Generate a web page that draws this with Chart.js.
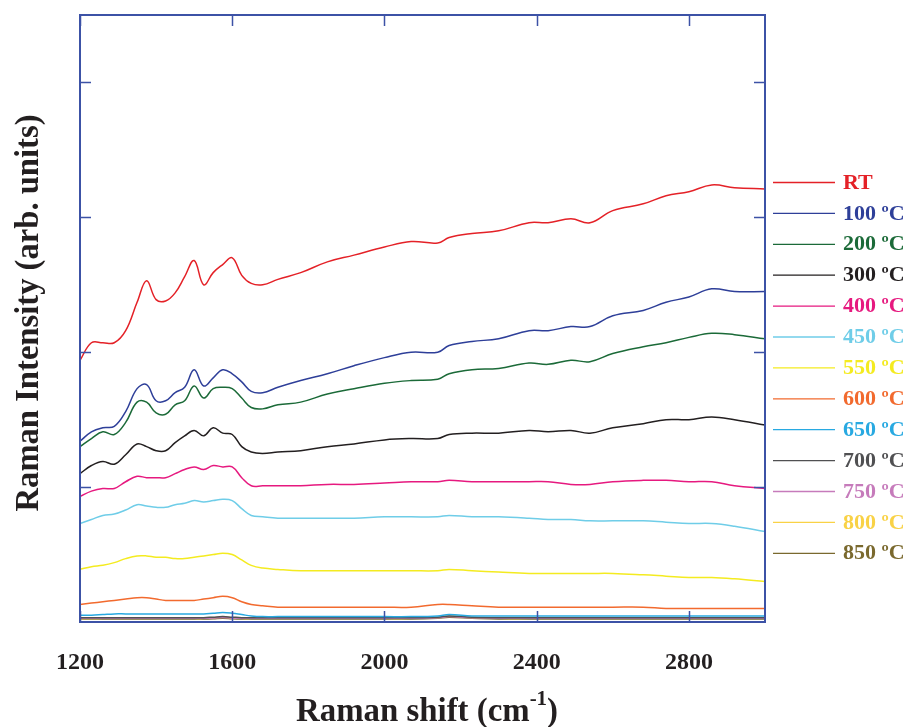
<!DOCTYPE html>
<html>
<head>
<meta charset="utf-8">
<title>Raman spectra vs annealing temperature</title>
<script src="https://cdn.jsdelivr.net/npm/chart.js@4.4.1/dist/chart.umd.min.js"></script>
<style>
  html, body { margin: 0; padding: 0; background: #ffffff; }
  canvas { display: block; }
</style>
</head>
<body>
<canvas id="ramanChart" width="906" height="727"></canvas>
<script>
// Raman shift positions (cm-1) shared by every spectrum
const shifts = [1200, 1230, 1260, 1290, 1320, 1350, 1375, 1400, 1425, 1450,
  1475, 1500, 1525, 1550, 1575, 1600, 1625, 1650, 1680, 1720,
  1780, 1850, 1920, 2000, 2070, 2140, 2170, 2230, 2300, 2380,
  2430, 2490, 2540, 2600, 2680, 2740, 2800, 2860, 2920, 3000];

// Intensities (arb. units, stacked as plotted)
const rtValues = [1.94, 2.07, 2.07, 2.07, 2.16, 2.37, 2.53, 2.39, 2.38, 2.44,
  2.56, 2.68, 2.50, 2.59, 2.65, 2.70, 2.57, 2.51, 2.50, 2.54,
  2.59, 2.67, 2.72, 2.78, 2.82, 2.81, 2.85, 2.88, 2.90, 2.96,
  2.96, 2.99, 2.96, 3.05, 3.10, 3.16, 3.19, 3.24, 3.22, 3.21];
const t100Values = [1.34, 1.41, 1.44, 1.45, 1.56, 1.73, 1.76, 1.64, 1.64, 1.70,
  1.74, 1.87, 1.75, 1.81, 1.87, 1.84, 1.78, 1.71, 1.70, 1.74,
  1.79, 1.84, 1.90, 1.96, 2.00, 2.00, 2.05, 2.08, 2.10, 2.16,
  2.16, 2.19, 2.19, 2.27, 2.31, 2.37, 2.41, 2.47, 2.45, 2.45];
const t200Values = [1.30, 1.36, 1.41, 1.39, 1.48, 1.63, 1.63, 1.55, 1.54, 1.61,
  1.64, 1.75, 1.66, 1.73, 1.74, 1.73, 1.66, 1.59, 1.58, 1.61,
  1.63, 1.69, 1.73, 1.77, 1.79, 1.80, 1.84, 1.87, 1.88, 1.92,
  1.91, 1.94, 1.93, 1.99, 2.04, 2.07, 2.11, 2.14, 2.13, 2.10];
const t300Values = [1.10, 1.16, 1.19, 1.17, 1.24, 1.32, 1.30, 1.27, 1.27, 1.33,
  1.38, 1.42, 1.38, 1.44, 1.40, 1.39, 1.30, 1.26, 1.25, 1.26,
  1.27, 1.30, 1.32, 1.35, 1.36, 1.36, 1.39, 1.40, 1.40, 1.42,
  1.41, 1.42, 1.40, 1.44, 1.47, 1.50, 1.50, 1.52, 1.50, 1.46];
const t400Values = [0.93, 0.97, 0.99, 0.99, 1.04, 1.08, 1.07, 1.07, 1.07, 1.10,
  1.13, 1.15, 1.13, 1.16, 1.15, 1.15, 1.07, 1.01, 1.01, 1.01,
  1.01, 1.02, 1.02, 1.03, 1.04, 1.04, 1.05, 1.04, 1.04, 1.04,
  1.04, 1.02, 1.02, 1.04, 1.05, 1.05, 1.04, 1.04, 1.01, 0.99];
const t450Values = [0.73, 0.76, 0.79, 0.80, 0.83, 0.87, 0.86, 0.85, 0.85, 0.87,
  0.88, 0.90, 0.89, 0.90, 0.91, 0.90, 0.84, 0.79, 0.78, 0.77,
  0.77, 0.77, 0.77, 0.78, 0.78, 0.78, 0.79, 0.78, 0.78, 0.77,
  0.76, 0.76, 0.75, 0.75, 0.75, 0.74, 0.73, 0.73, 0.71, 0.67];
const t550Values = [0.39, 0.41, 0.42, 0.44, 0.47, 0.49, 0.49, 0.48, 0.48, 0.47,
  0.47, 0.48, 0.49, 0.50, 0.51, 0.50, 0.46, 0.42, 0.40, 0.39,
  0.38, 0.38, 0.38, 0.38, 0.38, 0.38, 0.39, 0.38, 0.37, 0.36,
  0.36, 0.36, 0.36, 0.36, 0.35, 0.34, 0.33, 0.33, 0.32, 0.30];
const t600Values = [0.13, 0.14, 0.15, 0.16, 0.17, 0.18, 0.18, 0.17, 0.16, 0.16,
  0.16, 0.16, 0.17, 0.18, 0.19, 0.18, 0.15, 0.13, 0.12, 0.11,
  0.11, 0.11, 0.11, 0.11, 0.11, 0.13, 0.13, 0.12, 0.11, 0.11,
  0.11, 0.11, 0.11, 0.11, 0.11, 0.10, 0.10, 0.10, 0.10, 0.10];
const t650Values = [0.050, 0.050, 0.055, 0.060, 0.060, 0.060, 0.060, 0.060, 0.060, 0.060,
  0.060, 0.060, 0.060, 0.065, 0.070, 0.065, 0.055, 0.045, 0.040, 0.040,
  0.040, 0.040, 0.040, 0.040, 0.040, 0.045, 0.055, 0.045, 0.045, 0.045,
  0.045, 0.045, 0.045, 0.045, 0.045, 0.045, 0.045, 0.045, 0.045, 0.045];
const t700Values = [0.032, 0.032, 0.032, 0.032, 0.032, 0.032, 0.032, 0.032, 0.032, 0.032,
  0.032, 0.032, 0.032, 0.036, 0.040, 0.036, 0.032, 0.032, 0.032, 0.032,
  0.032, 0.032, 0.032, 0.032, 0.032, 0.036, 0.045, 0.036, 0.032, 0.032,
  0.032, 0.032, 0.032, 0.032, 0.032, 0.032, 0.032, 0.032, 0.032, 0.032];
const t750Values = [0.028, 0.028, 0.028, 0.028, 0.028, 0.028, 0.028, 0.028, 0.028, 0.028,
  0.028, 0.028, 0.028, 0.030, 0.034, 0.030, 0.028, 0.028, 0.028, 0.028,
  0.028, 0.028, 0.028, 0.028, 0.028, 0.032, 0.040, 0.032, 0.028, 0.028,
  0.028, 0.028, 0.028, 0.028, 0.028, 0.028, 0.028, 0.028, 0.028, 0.028];
const t800Values = [0.025, 0.026, 0.027, 0.027, 0.027, 0.027, 0.027, 0.027, 0.027, 0.027,
  0.027, 0.027, 0.027, 0.031, 0.035, 0.031, 0.027, 0.027, 0.027, 0.027,
  0.027, 0.027, 0.027, 0.027, 0.027, 0.034, 0.045, 0.034, 0.027, 0.027,
  0.027, 0.027, 0.027, 0.027, 0.027, 0.027, 0.027, 0.027, 0.027, 0.027];
const t850Values = [0.022, 0.022, 0.022, 0.022, 0.022, 0.022, 0.022, 0.022, 0.022, 0.022,
  0.022, 0.022, 0.022, 0.024, 0.028, 0.024, 0.022, 0.022, 0.022, 0.022,
  0.022, 0.022, 0.022, 0.022, 0.022, 0.028, 0.035, 0.028, 0.022, 0.022,
  0.022, 0.022, 0.022, 0.022, 0.022, 0.022, 0.022, 0.022, 0.022, 0.022];

const seriesLabels = ['RT', '100 ºC', '200 ºC', '300 ºC', '400 ºC', '450 ºC', '550 ºC',
  '600 ºC', '650 ºC', '700 ºC', '750 ºC', '800 ºC', '850 ºC'];
const seriesValues = [rtValues, t100Values, t200Values, t300Values, t400Values, t450Values,
  t550Values, t600Values, t650Values, t700Values, t750Values, t800Values, t850Values];
const seriesColors = ['#e42127', '#2e3f99', '#1b6a38', '#231f20', '#e6197f', '#6fcde8',
  '#f4eb20', '#f26a2e', '#28a9e1', '#505052', '#c67bbb', '#f9d246', '#7a692e'];

const xTickValues = [1200, 1600, 2000, 2400, 2800];
const yTickValues = [1, 2, 3, 4];

const FONT = '"Liberation Serif", "Times New Roman", serif';
const FRAME_COLOR = '#3c52a6';

// inward ticks on all four sides plus the box around the plot
const framePlugin = {
  id: 'frame',
  afterDatasetsDraw(chart) {
    const { ctx, chartArea: a, scales } = chart;
    ctx.save();
    ctx.strokeStyle = FRAME_COLOR;
    ctx.lineWidth = 1.5;
    ctx.beginPath();
    xTickValues.forEach(v => {
      const px = Math.round(scales.x.getPixelForValue(v)) + 0.5;
      ctx.moveTo(px, a.bottom); ctx.lineTo(px, a.bottom - 11);
      ctx.moveTo(px, a.top); ctx.lineTo(px, a.top + 11);
    });
    yTickValues.forEach(v => {
      const py = Math.round(scales.y.getPixelForValue(v)) + 0.5;
      ctx.moveTo(a.left, py); ctx.lineTo(a.left + 11, py);
      ctx.moveTo(a.right, py); ctx.lineTo(a.right - 11, py);
    });
    ctx.stroke();
    ctx.lineWidth = 2;
    ctx.strokeRect(a.left, a.top, a.right - a.left, a.bottom - a.top);
    ctx.restore();
  }
};

// line + coloured label for each spectrum, to the right of the plot
const sideLegend = {
  id: 'sideLegend',
  afterDraw(chart) {
    const ctx = chart.ctx;
    ctx.save();
    ctx.font = 'bold 22px ' + FONT;
    ctx.textBaseline = 'middle';
    seriesLabels.forEach((label, i) => {
      const y = 182 + i * 30.9;
      ctx.strokeStyle = seriesColors[i];
      ctx.lineWidth = 1.3;
      ctx.beginPath();
      ctx.moveTo(773, y + 0.5);
      ctx.lineTo(835, y + 0.5);
      ctx.stroke();
      ctx.fillStyle = seriesColors[i];
      ctx.fillText(label, 843, y + 1);
    });
    ctx.restore();
  }
};

// axis titles, narrow bold serif like the original figure
const axisTitles = {
  id: 'axisTitles',
  afterDraw(chart) {
    const ctx = chart.ctx;
    ctx.save();
    ctx.fillStyle = '#231f20';

    // y title
    const yTitle = 'Raman Intensity (arb. units)';
    ctx.font = 'bold 33px ' + FONT;
    const yw = ctx.measureText(yTitle).width;
    ctx.save();
    ctx.translate(38, 313);
    ctx.rotate(-Math.PI / 2);
    ctx.scale(397 / yw, 1);
    ctx.textAlign = 'center';
    ctx.textBaseline = 'alphabetic';
    ctx.fillText(yTitle, 0, 0);
    ctx.restore();

    // x title with superscript -1
    const main = 'Raman shift (cm';
    const sup = '-1';
    const close = ')';
    ctx.font = 'bold 33px ' + FONT;
    const mw = ctx.measureText(main).width;
    const cw = ctx.measureText(close).width;
    ctx.font = 'bold 21px ' + FONT;
    const sw = ctx.measureText(sup).width;
    const total = mw + sw + cw;
    const sx = 262 / total;
    ctx.save();
    ctx.translate(296, 721);
    ctx.scale(sx, 1);
    ctx.textBaseline = 'alphabetic';
    ctx.font = 'bold 33px ' + FONT;
    ctx.fillText(main, 0, 0);
    ctx.font = 'bold 21px ' + FONT;
    ctx.fillText(sup, mw, -16);
    ctx.font = 'bold 33px ' + FONT;
    ctx.fillText(close, mw + sw, 0);
    ctx.restore();

    ctx.restore();
  }
};

const datasets = seriesLabels.map((label, i) => ({
  label: label,
  data: seriesValues[i].map((v, j) => ({ x: shifts[j], y: v })),
  borderColor: seriesColors[i],
  borderWidth: 1.5,
  pointRadius: 0,
  fill: false,
  tension: 0.4
}));

new Chart(document.getElementById('ramanChart'), {
  type: 'line',
  data: { datasets: datasets },
  options: {
    responsive: false,
    animation: false,
    layout: { padding: { top: 15, right: 141, left: 0, bottom: 0 } },
    plugins: {
      legend: { display: false },
      tooltip: { enabled: false }
    },
    scales: {
      x: {
        type: 'linear',
        min: 1200,
        max: 3000,
        afterFit: scale => { scale.height = 105; },
        afterBuildTicks: scale => { scale.ticks = xTickValues.map(v => ({ value: v })); },
        ticks: {
          color: '#231f20',
          padding: 26,
          font: { family: FONT, size: 24, weight: 'bold' },
          callback: v => String(v)
        },
        grid: { display: false, drawTicks: false },
        border: { display: false }
      },
      y: {
        min: 0,
        max: 4.5,
        afterFit: scale => { scale.width = 80; },
        ticks: { display: false, stepSize: 1 },
        grid: { display: false, drawTicks: false },
        border: { display: false }
      }
    }
  },
  plugins: [framePlugin, sideLegend, axisTitles]
});
</script>
</body>
</html>
